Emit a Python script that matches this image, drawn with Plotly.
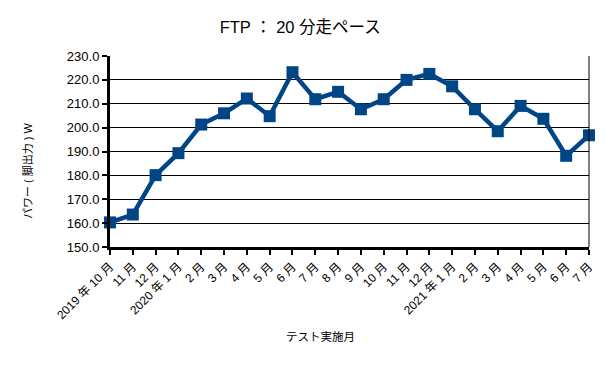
import plotly.graph_objects as go

months = ["2019 年 10 月", "11 月", "12 月", "2020 年 1 月", "2 月", "3 月", "4 月", "5 月",
          "6 月", "7 月", "8 月", "9 月", "10 月", "11 月", "12 月", "2021 年 1 月",
          "2 月", "3 月", "4 月", "5 月", "6 月", "7 月"]
power = [160.3, 163.6, 180.1, 189.3, 201.3, 206.0, 212.2, 204.8, 223.2, 211.9, 215.0,
         207.7, 211.9, 220.0, 222.5, 217.3, 207.7, 198.5, 209.1, 203.7, 188.2, 196.8]
y_ticks = [150, 160, 170, 180, 190, 200, 210, 220, 230]

FONT = "Liberation Sans, Arial, Noto Sans CJK JP, sans-serif"

fig = go.Figure()
fig.add_trace(go.Scatter(
    x=list(range(len(months))), y=power, mode="lines+markers",
    line=dict(color="#004586", width=4.5),
    marker=dict(symbol="square", size=12, color="#004586"),
    cliponaxis=False, showlegend=False,
))

fig.update_layout(
    width=605, height=365,
    margin=dict(l=102, r=24, t=48, b=126),
    paper_bgcolor="white", plot_bgcolor="white",
    font=dict(family=FONT, color="#000000"),
    title=dict(text="FTP ： 20 分走ペース", x=0.483, xanchor="center", y=0.948, yanchor="middle",
               font=dict(size=16.5, family=FONT, color="#000000")),
    xaxis=dict(
        range=[0, len(months) - 1],
        tickmode="array", tickvals=list(range(len(months))), ticktext=months,
        tickangle=-45, tickfont=dict(size=12, family=FONT, color="#000000"),
        ticks="outside", ticklen=5, tickwidth=2, tickcolor="black",
        showline=True, linewidth=3, linecolor="black",
        showgrid=False, zeroline=False, automargin=False,
    ),
    yaxis=dict(
        range=[150, 230], tickmode="array", tickvals=y_ticks,
        tickformat=".1f", tickfont=dict(size=13, family=FONT, color="#000000"),
        ticks="outside", ticklen=5, tickwidth=2, tickcolor="black",
        showline=True, linewidth=3, linecolor="black",
        showgrid=True, gridcolor="black", gridwidth=1, zeroline=False, automargin=False,
    ),
    annotations=[
        dict(text="テスト実施月", xref="paper", yref="paper", x=0.44, y=-0.471,
             xanchor="center", yanchor="middle", showarrow=False,
             font=dict(size=11.5, family=FONT, color="#000000")),
        dict(text="パワー ( 脚出力 ) W", xref="paper", yref="paper", x=-0.171, y=0.398,
             xanchor="center", yanchor="middle", showarrow=False, textangle=-90,
             font=dict(size=11, family=FONT, color="#000000")),
    ],
    shapes=[dict(type="line", xref="paper", yref="paper", x0=1, x1=1, y0=0, y1=1,
                 line=dict(color="black", width=1))],
)

fig.write_html("out.html")
